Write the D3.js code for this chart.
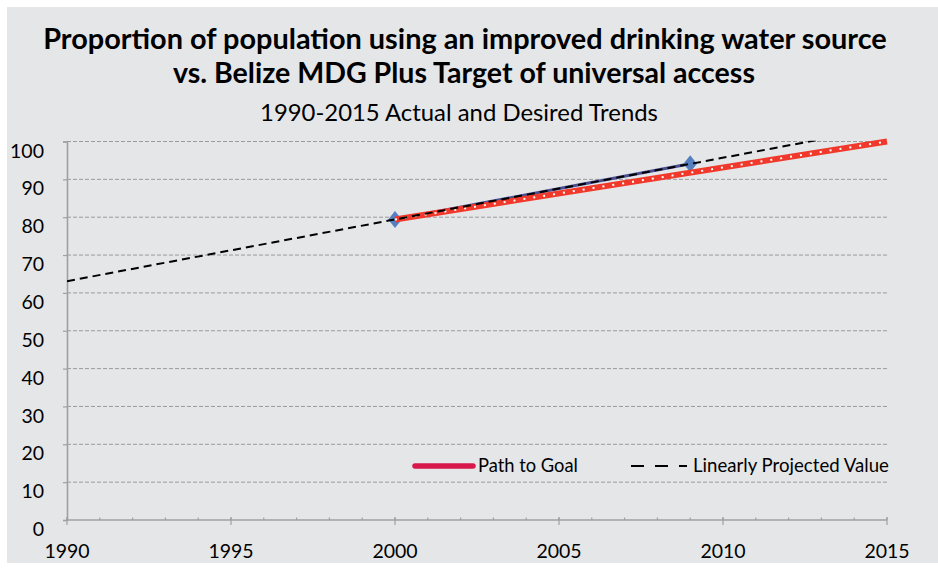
<!DOCTYPE html>
<html>
<head>
<meta charset="utf-8">
<script src="https://cdn.jsdelivr.net/npm/d3@7"></script>
<style>
  html, body { margin: 0; padding: 0; background: #ffffff; }
  svg { display: block; font-family: Lato, "Open Sans", sans-serif; }
</style>
</head>
<body>
<svg id="chart" width="938" height="570"></svg>
<script>
// Axis ticks
const yTicks = [0, 10, 20, 30, 40, 50, 60, 70, 80, 90, 100];
const xTicks = [1990, 1995, 2000, 2005, 2010, 2015];
const xMinorTicks = d3.range(1990, 2016);

// Series
const actualYears = [2000, 2009];
const actualValues = [79.4, 94.1];
const goalYears = [2000, 2015];
const goalValues = [79.4, 100];
const projYears = [1990, 2013];
const projValues = [63.1, 100.6];

const titleLines = [
  "Proportion of population using an improved drinking water source",
  "vs. Belize MDG Plus Target of universal access"
];
const subtitle = "1990-2015 Actual and Desired Trends";
const legendLabels = ["Path to Goal", "Linearly Projected Value"];

const svg = d3.select("#chart");
const W = 938, H = 570;

svg.append("rect").attr("x", 7).attr("y", 7).attr("width", W - 7).attr("height", 556)
  .attr("fill", "#e5e6e8");

const x = d3.scaleLinear().domain([1990, 2015]).range([67, 887]);
const y = d3.scaleLinear().domain([0, 100]).range([520, 141.5]);

// Scale a text's font size so it spans the given width
function fit(sel, width) {
  const w = sel.node().getComputedTextLength();
  const fs = parseFloat(sel.attr("font-size"));
  sel.attr("font-size", (fs * width / w).toFixed(2));
}

// Title block
const t1 = svg.append("text").attr("x", 465).attr("y", 49).attr("text-anchor", "middle")
  .attr("font-size", 25).attr("font-weight", 700).attr("fill", "#000").text(titleLines[0]);
fit(t1, 844);
const t2 = svg.append("text").attr("x", 464).attr("y", 83).attr("text-anchor", "middle")
  .attr("font-size", 25).attr("font-weight", 700).attr("fill", "#000").text(titleLines[1]);
fit(t2, 582);
const st = svg.append("text").attr("x", 459).attr("y", 121).attr("text-anchor", "middle")
  .attr("font-size", 20).attr("fill", "#000").text(subtitle);
fit(st, 398);

// Gridlines
svg.append("g").selectAll("line").data(yTicks.filter(d => d > 0)).join("line")
  .attr("x1", x(1990)).attr("x2", x(2015))
  .attr("y1", d => y(d)).attr("y2", d => y(d))
  .attr("stroke", "#9a9a9a").attr("stroke-width", 1).attr("stroke-dasharray", "4,2");

// Y axis
const yAxis = svg.append("g").attr("transform", `translate(${x(1990)},0)`)
  .call(d3.axisLeft(y).tickValues(yTicks).tickSize(4).tickPadding(19));
yAxis.select(".domain").attr("stroke", "#a0a0a0").attr("stroke-width", 1.6);
yAxis.selectAll(".tick line").attr("stroke", "#a0a0a0").attr("stroke-width", 1.2);
yAxis.selectAll(".tick text").attr("font-size", 19.5).attr("font-family", "Lato, sans-serif")
  .attr("fill", "#000").attr("dy", "0.8em");

// X axis: minor yearly ticks, major every five years
const xg = svg.append("g").attr("transform", `translate(0,${y(0)})`);
xg.append("line").attr("x1", x(1990)).attr("x2", x(2015)).attr("stroke", "#a0a0a0").attr("stroke-width", 1.6);
xg.selectAll("line.minor").data(xMinorTicks).join("line").attr("class", "minor")
  .attr("x1", d => x(d)).attr("x2", d => x(d)).attr("y1", -2.5).attr("y2", 0)
  .attr("stroke", "#a0a0a0").attr("stroke-width", 1.2);
xg.selectAll("line.major").data(xTicks).join("line").attr("class", "major")
  .attr("x1", d => x(d)).attr("x2", d => x(d)).attr("y1", -3).attr("y2", 5)
  .attr("stroke", "#a0a0a0").attr("stroke-width", 1.2);
xg.selectAll("text").data(xTicks).join("text")
  .attr("x", d => x(d)).attr("y", 38).attr("text-anchor", "middle")
  .attr("font-size", 19.5).attr("fill", "#000").text(d => d);

const line = d3.line().x(d => x(d[0])).y(d => y(d[1]));

svg.append("clipPath").attr("id", "plot").append("rect")
  .attr("x", x(1990)).attr("y", y(100) - 0.8).attr("width", x(2015) - x(1990)).attr("height", y(0) - y(100) + 0.8);

// Actual trend
const actual = d3.zip(actualYears, actualValues);
svg.append("path").attr("d", line(actual)).attr("fill", "none")
  .attr("stroke", "#4a4f93").attr("stroke-width", 3);
svg.append("g").selectAll("path").data(actual).join("path")
  .attr("d", "M0,-8.5 L6.8,0 L0,8.5 L-6.8,0 Z")
  .attr("transform", d => `translate(${x(d[0])},${y(d[1])})`)
  .attr("fill", "#5580c0");

// Path to goal
const goal = d3.zip(goalYears, goalValues);
svg.append("path").attr("d", line(goal)).attr("fill", "none")
  .attr("stroke", "#f0392b").attr("stroke-width", 6);
svg.append("path").attr("d", line(goal)).attr("fill", "none")
  .attr("stroke", "#ffffff").attr("stroke-width", 2).attr("stroke-dasharray", "2,8");

// Linear projection
const proj = d3.zip(projYears, projValues);
svg.append("path").attr("d", line(proj)).attr("fill", "none").attr("clip-path", "url(#plot)")
  .attr("stroke", "#000").attr("stroke-width", 2).attr("stroke-dasharray", "8,5");

// Legend
const lg = svg.append("g");
lg.append("line").attr("x1", 415).attr("x2", 473).attr("y1", 466).attr("y2", 466)
  .attr("stroke", "#d8174a").attr("stroke-width", 5.5).attr("stroke-linecap", "round");
const l1 = lg.append("text").attr("x", 478).attr("y", 472).attr("font-size", 16).attr("fill", "#000").text(legendLabels[0]);
fit(l1, 100);
lg.append("line").attr("x1", 631).attr("x2", 687).attr("y1", 466).attr("y2", 466)
  .attr("stroke", "#000").attr("stroke-width", 2).attr("stroke-dasharray", "13,11");
const l2 = lg.append("text").attr("x", 693).attr("y", 472).attr("font-size", 16).attr("fill", "#000").text(legendLabels[1]);
fit(l2, 196);
</script>
</body>
</html>
